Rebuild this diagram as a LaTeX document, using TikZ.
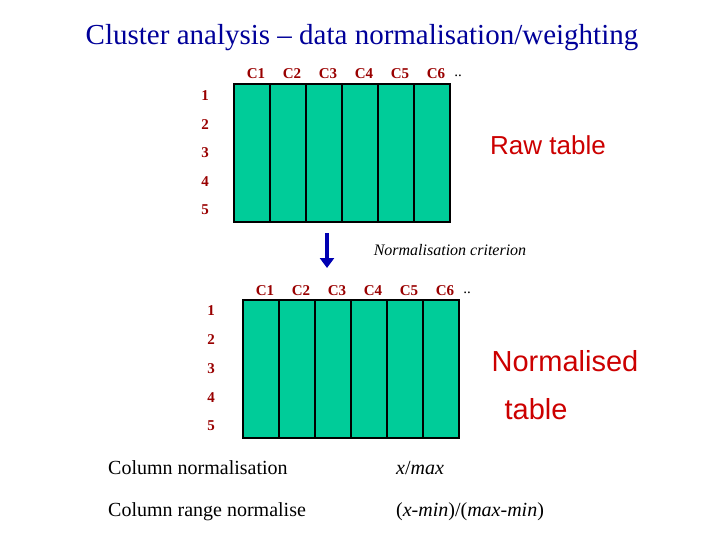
\documentclass[tikz,border=0pt]{standalone}
\usepackage{fontspec}
\setmainfont{Liberation Serif}
\newfontfamily\arial{Liberation Sans}
\usetikzlibrary{arrows.meta}
\definecolor{tblgreen}{HTML}{00CC99}
\definecolor{lblred}{HTML}{990000}
\definecolor{titleblue}{HTML}{000099}
\tikzset{
  colbox/.style={draw=black, line width=1.6pt, fill=tblgreen, minimum width=36pt, inner sep=0pt},
  lbl/.style={text=lblred, font=\fontsize{15}{15}\selectfont\bfseries, inner sep=0pt},
  bigred/.style={text=red!80!black, font=\arial\fontsize{26}{30}\selectfont, inner sep=0pt},
}
\begin{document}
\begin{tikzpicture}[x=1pt, y=-1pt]
  \useasboundingbox (0,0) rectangle (720,540);
  \node[text=titleblue, font=\fontsize{29}{30}\selectfont] (title) at (362,38) {Cluster analysis -- data normalisation/weighting};

  % raw table
  \foreach \i in {1,...,6} {
    \node[colbox, minimum height=138pt] (rcol\i) at (234+36*\i-18,153) {};
    \node[lbl] (rc\i) at (234+36*\i-18+4,74) {C\i};
  }
  \node[inner sep=0pt, font=\fontsize{15}{15}\selectfont] (rdots) at (458,76) {..};
  \foreach \r in {1,...,5}
    \node[lbl] (rr\r) at (205,96+28.5*\r-28.5) {\r};
  \node[bigred] (raw) at (548,145) {Raw table};

  % arrow
  \coordinate (atop) at (327,233);
  \coordinate (abot) at (327,268);
  \draw[-{Triangle[length=10pt,width=14pt]}, blue!70!black, line width=4pt] (atop) -- (abot);
  \node[font=\fontsize{16}{16}\selectfont\itshape, inner sep=0pt] (crit) at (450,250) {Normalisation criterion};

  % normalised table
  \foreach \i in {1,...,6} {
    \node[colbox, minimum height=138pt] (ncol\i) at (243+36*\i-18,369) {};
    \node[lbl] (nc\i) at (243+36*\i-18+4,291) {C\i};
  }
  \node[inner sep=0pt, font=\fontsize{15}{15}\selectfont] (ndots) at (467,293) {..};
  \foreach \r in {1,...,5}
    \node[lbl] (nr\r) at (211,311+28.7*\r-28.7) {\r};
  \node[bigred, font=\arial\fontsize{29}{30}\selectfont] (nrm) at (565,361) {Normalised};
  \node[bigred, font=\arial\fontsize{29}{30}\selectfont] (ntbl) at (536,409) {table};

  % methods
  \node[anchor=west, inner sep=0pt, font=\fontsize{20}{20}\selectfont] (m1) at (108,468) {Column normalisation};
  \node[anchor=west, inner sep=0pt, font=\fontsize{20}{20}\selectfont] (f1) at (396,468) {\textit{x}/\textit{max}};
  \node[anchor=west, inner sep=0pt, font=\fontsize{20}{20}\selectfont] (m2) at (108,512) {Column range normalise};
  \node[anchor=west, inner sep=0pt, font=\fontsize{20}{20}\selectfont] (f2) at (396,512) {(\textit{x-min})/(\textit{max-min})};
\end{tikzpicture}
\end{document}
